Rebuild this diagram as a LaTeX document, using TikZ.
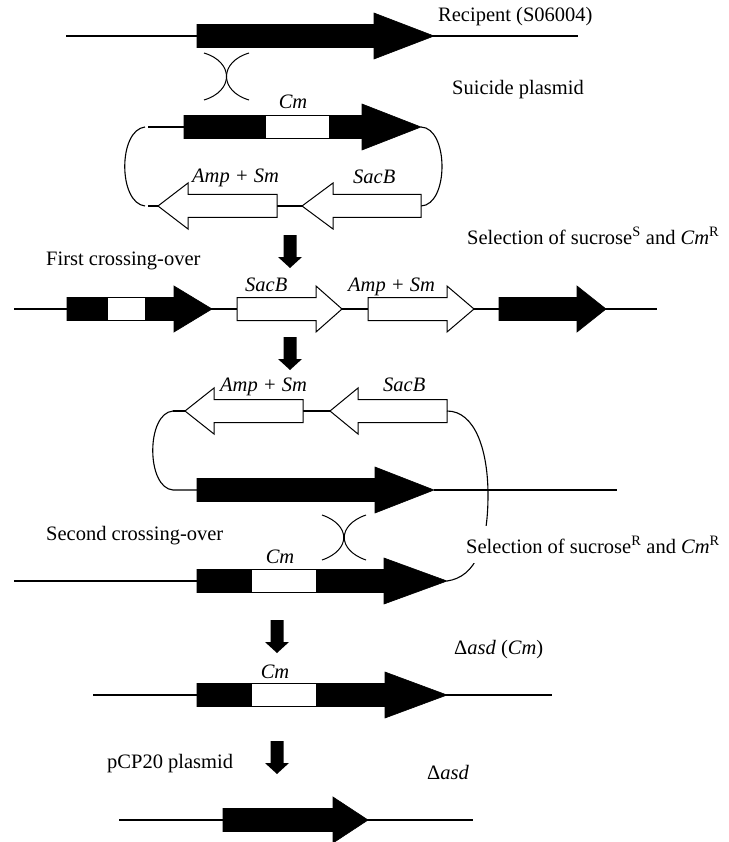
\documentclass[tikz,border=0pt]{standalone}
\usepackage{fontspec}
\setmainfont{Liberation Serif}
\usepackage{tikz}

% gene drawn as a block arrow: [style]{body start}{head base}{tip}{y}
\newcommand{\gene}[5][blackgene]{%
  \draw[#1] (#2,#5-11.5) -- (#3,#5-11.5) -- (#3,#5-23) -- (#4,#5)
    -- (#3,#5+23) -- (#3,#5+11.5) -- (#2,#5+11.5) -- cycle;}
% Cm cassette inside a gene: {left}{right}{y}
\newcommand{\cmbox}[3]{%
  \draw[cmcassette] (#1,#3-11.5) rectangle (#2,#3+11.5);}
% fat arrow between the stages: {x}{top}
\newcommand{\stagearrow}[2]{%
  \fill (#1-6.5,#2) -- (#1+6.5,#2) -- (#1+6.5,#2+22) -- (#1+12,#2+22)
    -- (#1,#2+33) -- (#1-12,#2+22) -- (#1-6.5,#2+22) -- cycle;}

\begin{document}
\begin{tikzpicture}[
  x=1pt, y=-1pt,
  strand/.style={line width=1.1pt},
  blackgene/.style={fill=black, draw=black, line width=0.6pt},
  whitegene/.style={fill=white, draw=black, line width=1pt},
  cmcassette/.style={fill=white, draw=black, line width=0.8pt},
  xover/.style={line width=1pt},
  txt/.style={inner sep=0pt, font=\fontsize{20.5}{24}\selectfont},
  gtxt/.style={inner sep=0pt, font=\fontsize{20.5}{24}\selectfont\itshape},
]
\useasboundingbox (0,0) rectangle (728,842);

% recipient chromosome
\draw[strand] (66,36) -- (578,36);
\gene{197}{374}{434}{36}
\node[txt, anchor=base west] (recip) at (438,22) {Recipent (S06004)};

% first crossing-over mark
\draw[xover] (204,53) .. controls (234,62) and (234,91) .. (204,100);
\draw[xover] (249,53) .. controls (219,62) and (219,91) .. (249,100);
\node[txt, anchor=base west] (suicide) at (452,95) {Suicide plasmid};

% suicide plasmid
\draw[strand] (148,127) -- (184,127);
\gene{184}{362}{421}{127}
\cmbox{265}{329}{127}
\node[gtxt, anchor=base] (cm1) at (293,109) {Cm};
\draw[strand] (145,127) .. controls (118,130) and (118,203) .. (145,206);
\draw[strand] (421,127) .. controls (449,128) and (449,205) .. (421,206);
\draw[strand] (148,206) -- (158,206);
\draw[strand] (277,206) -- (302,206);
\gene[whitegene]{277}{188}{158}{206}
\gene[whitegene]{421}{333}{302}{206}
\node[gtxt, anchor=base west] (amp1) at (192,183) {Amp + Sm};
\node[gtxt, anchor=base west] (sacb1) at (353,184) {SacB};

\stagearrow{290}{235}
\node[txt, anchor=base west] (selS) at (467,244)
  {Selection of sucrose\textsuperscript{S} and \textit{Cm}\textsuperscript{R}};
\node[txt, anchor=base west] (first) at (46,265) {First crossing-over};

% after first crossing-over
\draw[strand] (14,309) -- (657,309);
\gene{67}{174}{212}{309}
\cmbox{107}{145}{309}
\gene[whitegene]{237}{316}{342}{309}
\gene[whitegene]{368}{447}{474}{309}
\gene{499}{577}{606}{309}
\node[gtxt, anchor=base west] (sacb2) at (245,291) {SacB};
\node[gtxt, anchor=base west] (amp2) at (348,291) {Amp + Sm};

\stagearrow{290}{337}

% looped out intermediate
\draw[strand] (173,411) -- (185,411);
\draw[strand] (303,411) -- (330,411);
\gene[whitegene]{303}{214}{185}{411}
\gene[whitegene]{447}{358}{330}{411}
\node[gtxt, anchor=base west] (amp3) at (220,391) {Amp + Sm};
\node[gtxt, anchor=base west] (sacb3) at (383,391) {SacB};
\draw[strand] (173,411) .. controls (146,413) and (146,488) .. (173,490) -- (197,490);
\draw[strand] (434,490) -- (617,490);
\gene{197}{375}{434}{490}
\draw[strand] (447,411) .. controls (475,411) and (488,450) .. (488,495)
  .. controls (488,545) and (476,577) .. (447,581);

% second crossing-over mark
\draw[xover] (322,515) .. controls (351,525) and (351,550) .. (322,560);
\draw[xover] (366,515) .. controls (337,525) and (337,550) .. (366,560);
\node[txt, anchor=base west] (second) at (46,540) {Second crossing-over};
\node[txt, anchor=base west, fill=white, inner ysep=10pt] (selR) at (466,553)
  {Selection of sucrose\textsuperscript{R} and \textit{Cm}\textsuperscript{R}};

% chromosome with Cm insert
\draw[strand] (14,581) -- (197,581);
\gene{197}{384}{447}{581}
\cmbox{251}{316}{581}
\node[gtxt, anchor=base] (cm2) at (280,563) {Cm};

\stagearrow{277}{620}
\node[txt, anchor=base west] (dcm) at (454,654) {Δ\textit{asd} (\textit{Cm})};

% delta asd (Cm)
\draw[strand] (93,695) -- (552,695);
\gene{197}{385}{447}{695}
\cmbox{251}{316}{695}
\node[gtxt, anchor=base] (cm3) at (275,678) {Cm};

\stagearrow{277}{741}
\node[txt, anchor=base west] (pcp) at (107,768) {pCP20 plasmid};
\node[txt, anchor=base west] (dasd) at (427,779) {Δ\textit{asd}};

% delta asd
\draw[strand] (119,820) -- (473,820);
\gene{223}{333}{368}{820}

\end{tikzpicture}
\end{document}
